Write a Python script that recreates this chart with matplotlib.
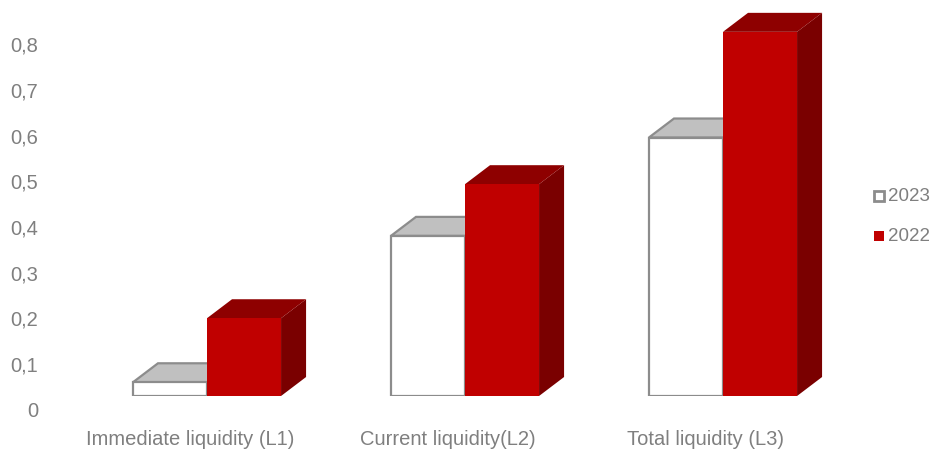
#!/usr/bin/env python3
"""Liquidity ratios 2023 vs 2022, drawn as pseudo-3D columns."""

import matplotlib

matplotlib.use("Agg")
import matplotlib.pyplot as plt
from matplotlib.patches import Polygon, Rectangle
from matplotlib.transforms import ScaledTranslation

categories = ["Immediate liquidity (L1)", "Current liquidity(L2)", "Total liquidity (L3)"]
series_names = ["2023", "2022"]
values_2023 = [0.03, 0.35, 0.565]
values_2022 = [0.17, 0.463, 0.796]
y_ticks = [0, 0.1, 0.2, 0.3, 0.4, 0.5, 0.6, 0.7, 0.8]
y_tick_labels = ["0", "0,1", "0,2", "0,3", "0,4", "0,5", "0,6", "0,7", "0,8"]

BAR_W = 0.287
DEPTH_X = 0.097
DEPTH_Y = 0.0415
TEXT_COLOR = "#7f7f7f"

STYLES = {
    "2023": dict(front="#ffffff", top="#c0c0c0", side="#a6a6a6", edge="#8c8c8c", lw=1.6),
    "2022": dict(front="#c00000", top="#8e0000", side="#7a0000", edge=None, lw=0),
}

plt.rcParams["font.family"] = ["Liberation Sans Narrow", "Liberation Sans", "DejaVu Sans"]


def draw_column(ax, x0, height, style):
    x1 = x0 + BAR_W
    edge = style["edge"] or "none"
    side = Polygon(
        [(x1, 0), (x1 + DEPTH_X, DEPTH_Y), (x1 + DEPTH_X, height + DEPTH_Y), (x1, height)],
        closed=True, facecolor=style["side"], edgecolor=edge, linewidth=style["lw"],
        joinstyle="miter",
    )
    top = Polygon(
        [(x0, height), (x0 + DEPTH_X, height + DEPTH_Y), (x1 + DEPTH_X, height + DEPTH_Y), (x1, height)],
        closed=True, facecolor=style["top"], edgecolor=edge, linewidth=style["lw"],
        joinstyle="miter",
    )
    front = Rectangle(
        (x0, 0), BAR_W, height, facecolor=style["front"], edgecolor=edge,
        linewidth=style["lw"], joinstyle="miter",
    )
    for patch in (side, top, front):
        ax.add_patch(patch)


fig = plt.figure(figsize=(9.31, 4.52), dpi=100)
W, H = 931, 452
# value 0 sits at 55 px from the bottom, 457.5 px per unit
ax = fig.add_axes([45 / W, 55 / H, (860 - 45) / W, (0.85 * 457.5) / H])
ax.set_xlim((45 - 207) / 258, (860 - 207) / 258)
ax.set_ylim(0, 0.85)

for i, (v23, v22) in enumerate(zip(values_2023, values_2022)):
    draw_column(ax, i - BAR_W, v23, STYLES["2023"])
    draw_column(ax, i, v22, STYLES["2022"])

for spine in ax.spines.values():
    spine.set_visible(False)

ax.set_yticks(y_ticks)
ax.set_yticklabels(y_tick_labels)
ax.set_xticks(range(len(categories)))
ax.set_xticklabels(categories)
ax.tick_params(axis="both", length=0, labelsize=14.5, labelcolor=TEXT_COLOR)
ax.tick_params(axis="y", pad=5)
ax.tick_params(axis="x", pad=24)

# labels sit slightly below/left of the front plane, as on a 3D wall
y_shift = ScaledTranslation(0, -13 / 100, fig.dpi_scale_trans)
for lbl in ax.get_yticklabels():
    lbl.set_transform(lbl.get_transform() + y_shift)
x_shift = ScaledTranslation(-17 / 100, 0, fig.dpi_scale_trans)
for lbl in ax.get_xticklabels():
    lbl.set_transform(lbl.get_transform() + x_shift)

# legend
leg_y = [197, 237]
for name, py in zip(series_names, leg_y):
    st = STYLES[name]
    fig.patches.append(
        Rectangle(
            (874 / W, (H - py - 5) / H), 10 / W, 10 / H,
            transform=fig.transFigure, facecolor=st["front"],
            edgecolor=st["edge"] or st["front"], linewidth=2.0 if st["edge"] else 0,
        )
    )
    fig.text(888 / W, (H - py) / H, name, ha="left", va="center",
             fontsize=13.5, color=TEXT_COLOR)

fig.savefig("out.png", dpi=100)
